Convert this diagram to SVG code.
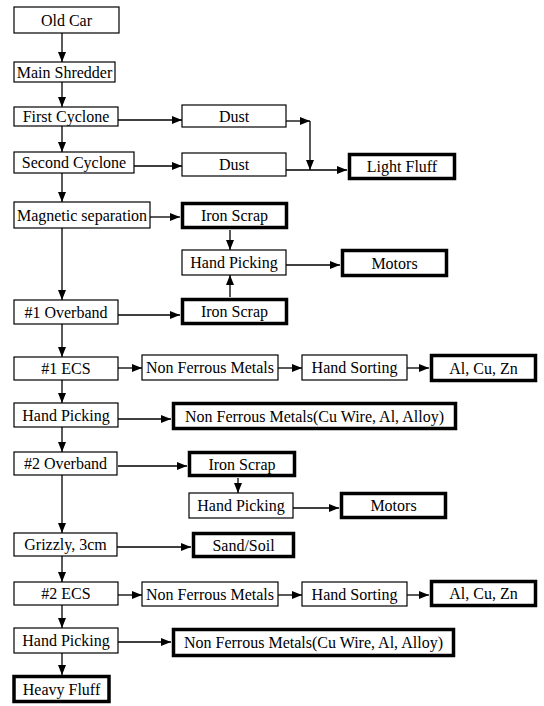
<svg xmlns="http://www.w3.org/2000/svg" width="544" height="706" viewBox="0 0 544 706">
<style>
  .n { fill: #fff; stroke: #000; stroke-width: 1.2; }
  .t { fill: #fff; stroke: #000; stroke-width: 3.5; }
  text { font-family: "Liberation Serif", "Times New Roman", serif; font-size: 16px; fill: #000; text-anchor: middle; }
  .c { fill: none; stroke: #000; stroke-width: 1.3; marker-end: url(#ah); }
  .l { fill: none; stroke: #000; stroke-width: 1.3; }
</style>
<defs>
  <marker id="ah" markerWidth="10" markerHeight="8" refX="10" refY="4" orient="auto" markerUnits="userSpaceOnUse">
    <path d="M0,0 L10,4 L0,8 z" fill="#000"/>
  </marker>
</defs>
<rect width="544" height="706" fill="#fff"/>
<g id="connectors">
  <path class="c" d="M62,33 V62"/>
  <path class="c" d="M62,82 V107"/>
  <path class="c" d="M62,126 V152"/>
  <path class="c" d="M62,173 V202"/>
  <path class="c" d="M62,228 V300"/>
  <path class="c" d="M62,324 V357"/>
  <path class="c" d="M62,380 V403"/>
  <path class="c" d="M62,427 V452"/>
  <path class="c" d="M62,475 V533"/>
  <path class="c" d="M62,556 V582"/>
  <path class="c" d="M62,605 V628"/>
  <path class="c" d="M62,653 V675"/>
  <path class="c" d="M118,120 H182"/>
  <path class="c" d="M134,166 H182"/>
  <path class="c" d="M286,121 H310"/>
  <path class="c" d="M310,121 V170"/>
  <path class="c" d="M286,170 H347"/>
  <path class="c" d="M150,217 H180"/>
  <path class="c" d="M230,230 V250"/>
  <path class="c" d="M286,265 H340"/>
  <path class="c" d="M118,315 H180"/>
  <path class="c" d="M230,297 V275"/>
  <path class="c" d="M118,368 H142"/>
  <path class="c" d="M278,368 H302"/>
  <path class="c" d="M407,368 H429"/>
  <path class="c" d="M118,419 H171"/>
  <path class="c" d="M118,466 H187"/>
  <path class="c" d="M238,478 V493"/>
  <path class="c" d="M293,508 H339"/>
  <path class="c" d="M117,547 H191"/>
  <path class="c" d="M118,595 H142"/>
  <path class="c" d="M278,595 H302"/>
  <path class="c" d="M407,595 H429"/>
  <path class="c" d="M118,642 H171"/>
</g>
<g id="old-car"><rect class="n" x="14" y="7" width="105" height="26"/><text x="66.5" y="25.5">Old Car</text></g>
<g id="main-shredder"><rect class="n" x="14" y="62" width="101" height="20"/><text x="64.5" y="77.5">Main Shredder</text></g>
<g id="first-cyclone"><rect class="n" x="14" y="107" width="104" height="19"/><text x="66" y="122">First Cyclone</text></g>
<g id="second-cyclone"><rect class="n" x="14" y="152" width="120" height="21"/><text x="74" y="168">Second Cyclone</text></g>
<g id="dust-1"><rect class="n" x="182" y="105" width="104" height="22"/><text x="234" y="121.5">Dust</text></g>
<g id="dust-2"><rect class="n" x="182" y="153" width="104" height="23"/><text x="234" y="170">Dust</text></g>
<g id="light-fluff"><rect class="t" x="349.5" y="154.5" width="105" height="24"/><text x="402" y="172">Light Fluff</text></g>
<g id="magnetic-separation"><rect class="n" x="14" y="202" width="136" height="26"/><text x="82" y="220.5">Magnetic separation</text></g>
<g id="iron-scrap-1"><rect class="t" x="182.5" y="203.5" width="104" height="24"/><text x="234.5" y="221">Iron Scrap</text></g>
<g id="hand-picking-1"><rect class="n" x="182" y="250" width="104" height="25"/><text x="234" y="268">Hand Picking</text></g>
<g id="motors-1"><rect class="t" x="342.5" y="250.5" width="104" height="25"/><text x="394.5" y="268.5">Motors</text></g>
<g id="overband-1"><rect class="n" x="14" y="300" width="104" height="24"/><text x="66" y="317.5">#1 Overband</text></g>
<g id="iron-scrap-2"><rect class="t" x="182.5" y="299.5" width="104" height="24"/><text x="234.5" y="317">Iron Scrap</text></g>
<g id="ecs-1"><rect class="n" x="14" y="357" width="104" height="23"/><text x="66" y="374">#1 ECS</text></g>
<g id="non-ferrous-1"><rect class="n" x="142" y="355" width="136" height="25"/><text x="210" y="373">Non Ferrous Metals</text></g>
<g id="hand-sorting-1"><rect class="n" x="302" y="355" width="105" height="25"/><text x="354.5" y="373">Hand Sorting</text></g>
<g id="al-cu-zn-1"><rect class="t" x="431.5" y="355.5" width="104" height="25"/><text x="483.5" y="373.5">Al, Cu, Zn</text></g>
<g id="hand-picking-2"><rect class="n" x="14" y="403" width="104" height="24"/><text x="66" y="420.5">Hand Picking</text></g>
<g id="non-ferrous-wire-1"><rect class="t" x="173.5" y="403.5" width="282" height="25"/><text x="314.5" y="421.5">Non Ferrous Metals(Cu Wire, Al, Alloy)</text></g>
<g id="overband-2"><rect class="n" x="14" y="452" width="103" height="23"/><text x="65.5" y="469">#2 Overband</text></g>
<g id="iron-scrap-3"><rect class="t" x="189.5" y="452.5" width="105" height="23"/><text x="242" y="469.5">Iron Scrap</text></g>
<g id="hand-picking-3"><rect class="n" x="189" y="493" width="104" height="25"/><text x="241" y="511">Hand Picking</text></g>
<g id="motors-2"><rect class="t" x="341.5" y="493.5" width="104" height="24"/><text x="393.5" y="511">Motors</text></g>
<g id="grizzly"><rect class="n" x="14" y="533" width="103" height="23"/><text x="65.5" y="550">Grizzly, 3cm</text></g>
<g id="sand-soil"><rect class="t" x="193.5" y="533.5" width="100" height="23"/><text x="243.5" y="550.5">Sand/Soil</text></g>
<g id="ecs-2"><rect class="n" x="14" y="582" width="104" height="23"/><text x="66" y="599">#2 ECS</text></g>
<g id="non-ferrous-2"><rect class="n" x="142" y="582" width="136" height="24"/><text x="210" y="599.5">Non Ferrous Metals</text></g>
<g id="hand-sorting-2"><rect class="n" x="302" y="582" width="105" height="24"/><text x="354.5" y="599.5">Hand Sorting</text></g>
<g id="al-cu-zn-2"><rect class="t" x="431.5" y="581.5" width="104" height="24"/><text x="483.5" y="599">Al, Cu, Zn</text></g>
<g id="hand-picking-4"><rect class="n" x="14" y="628" width="104" height="25"/><text x="66" y="646">Hand Picking</text></g>
<g id="non-ferrous-wire-2"><rect class="t" x="173.5" y="629.5" width="280" height="26"/><text x="313.5" y="648">Non Ferrous Metals(Cu Wire, Al, Alloy)</text></g>
<g id="heavy-fluff"><rect class="t" x="14" y="676.5" width="95" height="25"/><text x="61.5" y="694.5">Heavy Fluff</text></g>
</svg>
